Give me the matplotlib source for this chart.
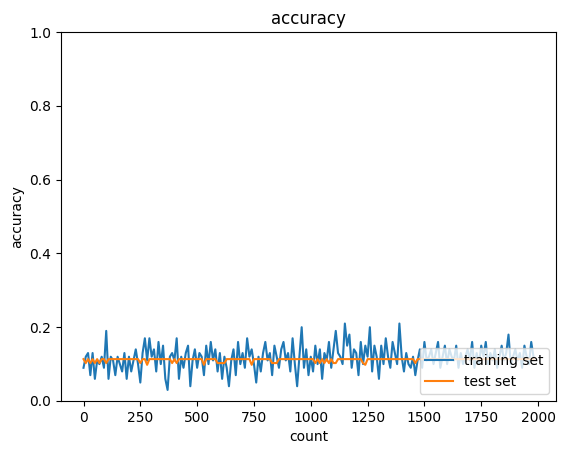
# Training / test accuracy over the iteration count.
import numpy as np
import matplotlib
matplotlib.use('Agg')
import matplotlib.pyplot as plt

# Accuracy recorded every 10 counts (0 .. 1980).
train_acc = [
    0.09, 0.12, 0.13, 0.07, 0.13, 0.06, 0.11, 0.10, 0.12, 0.09,
    0.19, 0.06, 0.12, 0.11, 0.07, 0.12, 0.10, 0.08, 0.13, 0.06,
    0.12, 0.08, 0.11, 0.14, 0.10, 0.05, 0.13, 0.17, 0.11, 0.17,
    0.12, 0.14, 0.08, 0.16, 0.10, 0.15, 0.06, 0.03, 0.12, 0.13,
    0.11, 0.17, 0.06, 0.12, 0.09, 0.13, 0.15, 0.04, 0.11, 0.14,
    0.09, 0.13, 0.12, 0.07, 0.15, 0.10, 0.16, 0.11, 0.14, 0.08,
    0.13, 0.06, 0.12, 0.09, 0.04, 0.11, 0.14, 0.07, 0.16, 0.10,
    0.13, 0.09, 0.17, 0.12, 0.14, 0.10, 0.05, 0.12, 0.08, 0.13,
    0.16, 0.11, 0.13, 0.07, 0.15, 0.12, 0.09, 0.14, 0.16, 0.11,
    0.13, 0.08, 0.17, 0.10, 0.04, 0.12, 0.20, 0.09, 0.14, 0.07,
    0.12, 0.08, 0.15, 0.10, 0.14, 0.06, 0.13, 0.11, 0.16, 0.09,
    0.14, 0.19, 0.13, 0.12, 0.10, 0.21, 0.15, 0.18, 0.09, 0.14,
    0.13, 0.07, 0.16, 0.10, 0.15, 0.12, 0.20, 0.08, 0.15, 0.12,
    0.06, 0.15, 0.10, 0.17, 0.12, 0.09, 0.16, 0.13, 0.10, 0.21,
    0.12, 0.08, 0.13, 0.10, 0.09, 0.12, 0.07, 0.11, 0.14, 0.09,
    0.16, 0.11, 0.12, 0.14, 0.10, 0.13, 0.16, 0.09, 0.12, 0.15,
    0.10, 0.14, 0.12, 0.11, 0.15, 0.09, 0.13, 0.10, 0.12, 0.14,
    0.11, 0.16, 0.09, 0.13, 0.10, 0.15, 0.12, 0.16, 0.10, 0.13,
    0.11, 0.14, 0.09, 0.12, 0.15, 0.11, 0.13, 0.18, 0.10, 0.12,
    0.14, 0.11, 0.13, 0.09, 0.15, 0.12, 0.10, 0.16, 0.12,
]

H, L, D = 0.1135, 0.1028, 0.098
test_acc = [
    H, L, H, L, H, L, H, L, H, H,
    L, H, H, H, H, H, H, H, H, H,
    H, H, H, H, H, L, H, H, D, H,
    H, H, H, H, H, H, H, H, H, L,
    H, L, H, H, H, H, H, H, H, H,
    H, H, H, D, H, H, H, H, H, L,
    L, L, L, H, H, H, H, H, H, H,
    H, H, H, H, D, H, H, H, H, H,
    H, H, H, L, L, L, H, H, H, H,
    H, H, H, H, H, H, H, H, H, H,
    H, H, L, H, L, H, L, H, L, H,
    L, L, H, H, H, H, H, H, H, H,
    H, H, H, L, D, H, H, H, H, H,
    H, H, H, H, H, H, H, H, H, H,
    H, H, H, H, H, H, L, H, H, H,
    H, H, H, H, H, H, H, H, H, H,
    H, H, H, H, H, H, H, H, H, H,
    H, H, H, H, H, H, H, H, H, H,
    H, H, H, H, H, H, H, H, H, H,
    H, H, H, H, H, H, H, H, H,
]

count = np.arange(len(train_acc)) * 10


def main():
    fig = plt.figure(figsize=(5.67, 4.55), dpi=100)
    fig.subplots_adjust(left=61 / 567, right=556 / 567,
                        top=1 - 32 / 455, bottom=1 - 401 / 455)
    ax = fig.add_subplot(111)

    ax.plot(count, train_acc, label='training set')
    ax.plot(count, test_acc, label='test set')

    ax.set_title('accuracy')
    ax.set_xlabel('count')
    ax.set_ylabel('accuracy')
    ax.set_ylim(0, 1.0)
    ax.legend(loc='lower right')

    fig.savefig('out.png', dpi=100)


if __name__ == '__main__':
    main()
